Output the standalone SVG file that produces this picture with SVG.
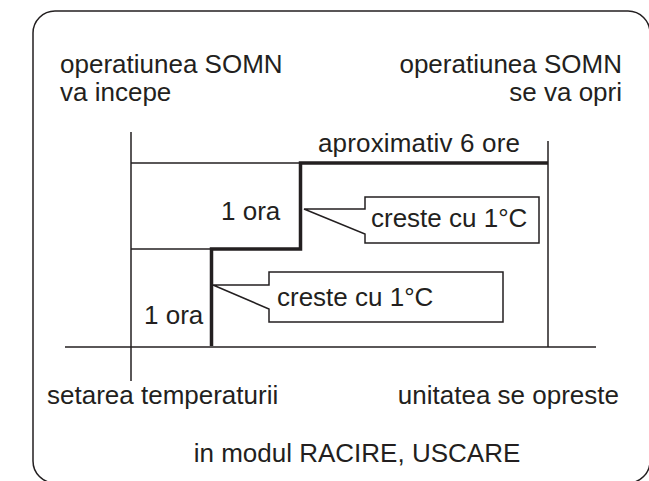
<svg xmlns="http://www.w3.org/2000/svg" width="649" height="481" viewBox="0 0 649 481">
<style>
text{font-family:"Liberation Sans",Arial,sans-serif;font-size:26px;fill:#231f20}
.thin{stroke:#231f20;stroke-width:1.5;fill:none}
.thick{stroke:#231f20;stroke-width:3.5;fill:none}
.callout{stroke:#231f20;stroke-width:1.5;fill:#fff}
</style>
<rect width="649" height="481" fill="#fff"/>
<g id="frame"><rect x="33" y="11" width="617" height="472" rx="22" ry="22" class="thin"/></g>
<g id="connectors">
<line x1="131" y1="132" x2="131" y2="381" class="thin"/>
<line x1="548" y1="141" x2="548" y2="347" class="thin"/>
<line x1="65" y1="347" x2="596" y2="347" class="thin"/>
<line x1="131" y1="163" x2="300" y2="163" class="thin"/>
<line x1="131" y1="249" x2="211" y2="249" class="thin"/>
<polyline points="211.5,346 211.5,249 300.5,249 300.5,163 548,163" class="thick"/>
</g>
<g id="start-label"><text x="60" y="73">operatiunea SOMN</text><text x="60" y="101">va incepe</text></g>
<g id="stop-label"><text x="622" y="73" text-anchor="end">operatiunea SOMN</text><text x="622" y="101" text-anchor="end">se va opri</text></g>
<g id="duration"><text x="318" y="152" textLength="202">aproximativ 6 ore</text></g>
<g id="hour1"><text x="144" y="324">1 ora</text></g>
<g id="hour2"><text x="221" y="220">1 ora</text></g>
<g id="callout1"><path d="M304,209 L365,209 L365,197 L539,197 L539,243 L365,243 L365,234 Z" class="callout"/><text x="371" y="227">creste cu 1°C</text></g>
<g id="callout2"><path d="M213,285 L269,285 L269,272 L503,272 L503,322 L269,322 L269,309 Z" class="callout"/><text x="277" y="306">creste cu 1°C</text></g>
<g id="setpoint"><text x="47" y="404">setarea temperaturii</text></g>
<g id="unit-off"><text x="619" y="404" text-anchor="end">unitatea se opreste</text></g>
<g id="mode"><text x="357" y="462" text-anchor="middle">in modul RACIRE, USCARE</text></g>
</svg>
